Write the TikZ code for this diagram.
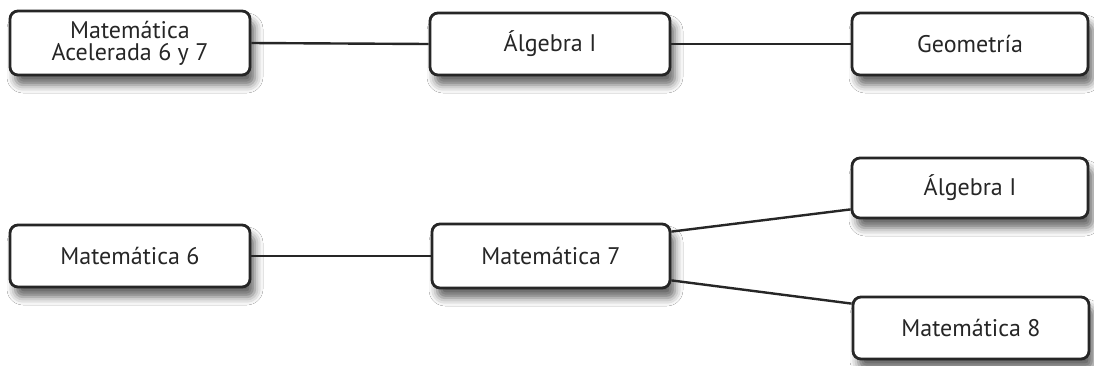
\documentclass[tikz,border=0pt]{standalone}
\usepackage{fontspec}
\setmainfont{PT Sans}
\usetikzlibrary{shadows.blur}
\begin{document}
\begin{tikzpicture}[x=1pt,y=-1pt,
  course/.style={draw=black!85, line width=2.8pt, rounded corners=8pt, fill=white,
    align=center, inner sep=0pt, font=\fontsize{24}{25}\selectfont, text=black!85,
    blur shadow={shadow xshift=5pt, shadow yshift=-10pt, shadow blur radius=8pt, shadow opacity=60}},
  link/.style={draw=black!85, line width=2.4pt}]
\useasboundingbox[fill=white] (0,0) rectangle (1094,365);
\node[course, minimum width=240pt, minimum height=64pt] (a) at (130,43) {Matemática\\[-3pt]Acelerada 6 y 7};
\node[course, minimum width=240pt, minimum height=62pt] (b) at (550,44) {Álgebra I};
\node[course, minimum width=236pt, minimum height=62pt] (c) at (970,44) {Geometría};
\node[course, minimum width=240pt, minimum height=62pt] (d) at (130,256) {Matemática 6};
\node[course, minimum width=238pt, minimum height=64pt] (e) at (551,256) {Matemática 7};
\node[course, minimum width=236pt, minimum height=60pt] (f) at (970,188) {Álgebra I};
\node[course, minimum width=236pt, minimum height=62pt] (g) at (971,328) {Matemática 8};
\draw[link] (a.east) -- (b.west);
\draw[link] (b.east) -- (c.west);
\draw[link] (d.east) -- (e.west);
\draw[link] ([yshift=-9pt]e.north east) -- ([yshift=10pt]f.south west);
\draw[link] ([yshift=9pt]e.south east) -- ([yshift=-8pt]g.north west);
\end{tikzpicture}
\end{document}
